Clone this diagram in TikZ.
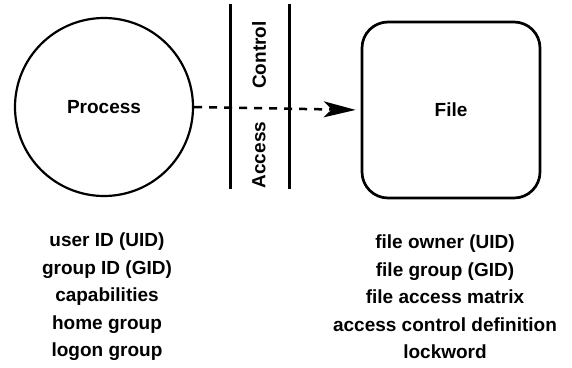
\documentclass[tikz,border=0pt]{standalone}
\usepackage{fontspec}
\setmainfont{Liberation Sans}
\usetikzlibrary{arrows.meta}
\begin{document}
\begin{tikzpicture}[x=1pt,y=-1pt,
  every node/.style={font=\bfseries\fontsize{19}{27.5}\selectfont, inner sep=0pt},
  outline/.style={draw=black, line width=2.2pt},
  barrier/.style={draw=black, line width=3pt},
  flow/.style={draw=black, line width=2.5pt, dash pattern=on 8pt off 7pt,
    -{Stealth[length=32pt,width=16pt,inset=8pt]}, shorten >=5pt},
  attrlist/.style={align=center}
]
  \useasboundingbox (0,0) rectangle (572,367);

  % subject and object
  \node[outline, circle, minimum size=178pt] (proc) at (104,107) {Process};
  \node[outline, line width=2.7pt, rectangle, rounded corners=26pt,
        minimum width=178pt, minimum height=176pt] (file) at (451,110) {File};

  % the access-control barrier
  \coordinate (b1t) at (230,4);  \coordinate (b1b) at (230,189);
  \coordinate (b2t) at (289,4);  \coordinate (b2b) at (289,189);
  \draw[barrier] (b1t) -- (b1b);
  \draw[barrier] (b2t) -- (b2b);
  \node[rotate=90] (ctl) at (259,55) {Control};
  \node[rotate=90] (acc) at (259,155) {Access};

  % request from process to file
  \draw[flow] (proc.east) -- (file.west);

  % attributes
  \node[attrlist] (pattr) at (107,297)
    {user ID (UID)\\group ID (GID)\\capabilities\\home group\\logon group};
  \node[attrlist] (fattr) at (445,297)
    {file owner (UID)\\file group (GID)\\file access matrix\\access control definition\\lockword};
\end{tikzpicture}
\end{document}
